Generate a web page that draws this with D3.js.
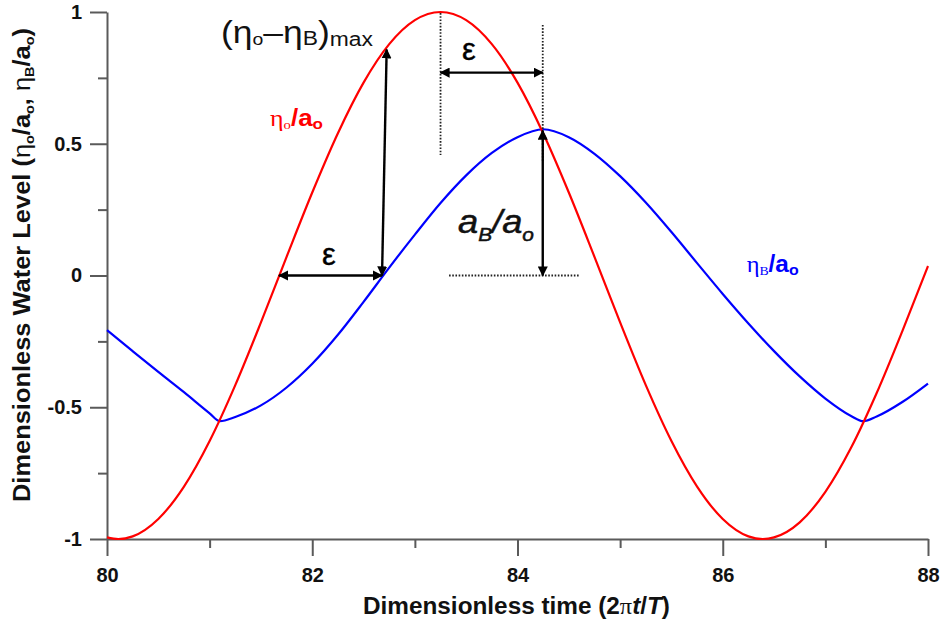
<!DOCTYPE html>
<html><head><meta charset="utf-8">
<script src="https://cdn.jsdelivr.net/npm/d3@7"></script>
<style>
html,body{margin:0;padding:0;background:#fff;}
svg{display:block;}
text{font-family:Arial,"Liberation Sans",sans-serif;}
</style></head>
<body>
<svg id="chart" width="946" height="625"></svg>
<script>
// ---- data ----
const oceanT = [80.00,80.11,80.25,80.50,80.75,81.00,81.25,81.50,81.75,82.00,82.25,82.50,82.75,83.00,83.25,83.50,83.75,84.00,84.25,84.50,84.75,85.00,85.25,85.50,85.75,86.00,86.25,86.39,86.50,86.75,87.00,87.25,87.50,87.75,88.00];
const oceanLevel = [-0.994,-1.000,-0.990,-0.924,-0.801,-0.628,-0.416,-0.178,0.071,0.315,0.540,0.732,0.878,0.969,1.000,0.969,0.878,0.732,0.540,0.315,0.071,-0.178,-0.416,-0.628,-0.801,-0.924,-0.990,-1.000,-0.994,-0.937,-0.821,-0.654,-0.446,-0.211,0.036];
const basinT = [80.00,80.25,80.50,80.75,81.00,81.10,81.25,81.50,81.75,82.00,82.25,82.50,82.75,83.00,83.25,83.50,83.75,84.00,84.25,84.50,84.75,85.00,85.25,85.50,85.75,86.00,86.25,86.50,86.75,87.00,87.25,87.37,87.50,87.75,88.00];
const basinLevel = [-0.207,-0.287,-0.366,-0.443,-0.523,-0.553,-0.537,-0.493,-0.425,-0.335,-0.225,-0.100,0.030,0.155,0.275,0.380,0.465,0.525,0.555,0.525,0.462,0.377,0.277,0.165,0.047,-0.070,-0.182,-0.287,-0.383,-0.467,-0.533,-0.553,-0.535,-0.480,-0.410];
const xMajorTicks = [80,82,84,86,88];
const xMinorTicks = [81,83,85,87];
const yMajorTicks = [-1,-0.5,0,0.5,1];
const yMinorTicks = [-0.75,-0.25,0.25,0.75];
const yTickLabels = ["-1","-0.5","0","0.5","1"];

// ---- scales ----
const svg = d3.select("#chart");
const x = d3.scaleLinear().domain([80,88]).range([107,928]);
const y = d3.scaleLinear().domain([-1,1]).range([539,12]);
const axisColor = "#5a5a5a";

// ---- axes ----
function styleAxis(g){
  g.select(".domain").attr("stroke",axisColor).attr("stroke-width",2);
  g.selectAll(".tick line").attr("stroke",axisColor).attr("stroke-width",2);
  g.selectAll(".tick text").attr("fill","#111").attr("font-weight","bold").attr("font-size",20)
   .attr("font-family","Arial, 'Liberation Sans', sans-serif");
}
const gxMinor = svg.append("g").attr("transform",`translate(0,${y(-1)})`)
  .call(d3.axisBottom(x).tickValues(xMinorTicks).tickSize(9).tickFormat(""));
gxMinor.select(".domain").remove();
gxMinor.selectAll(".tick line").attr("stroke",axisColor).attr("stroke-width",2);
const gx = svg.append("g").attr("transform",`translate(0,${y(-1)})`)
  .call(d3.axisBottom(x).tickValues(xMajorTicks).tickSize(17).tickSizeOuter(0).tickPadding(12).tickFormat(d3.format("d")));
styleAxis(gx);

const gyMinor = svg.append("g").attr("transform",`translate(${x(80)},0)`)
  .call(d3.axisLeft(y).tickValues(yMinorTicks).tickSize(9).tickFormat(""));
gyMinor.select(".domain").remove();
gyMinor.selectAll(".tick line").attr("stroke",axisColor).attr("stroke-width",2);
const gy = svg.append("g").attr("transform",`translate(${x(80)},0)`)
  .call(d3.axisLeft(y).tickValues(yMajorTicks).tickSize(17).tickSizeOuter(0).tickPadding(8)
    .tickFormat((d,i)=>yTickLabels[i]));
styleAxis(gy);

// ---- lines ----
const line = d3.line().x(d=>x(d[0])).y(d=>y(d[1])).curve(d3.curveMonotoneX);
svg.append("path").datum(basinT.map((t,i)=>[t,basinLevel[i]]))
  .attr("d",line).attr("fill","none").attr("stroke","#0000ff").attr("stroke-width",2.2);
svg.append("path").datum(oceanT.map((t,i)=>[t,oceanLevel[i]]))
  .attr("d",line).attr("fill","none").attr("stroke","#ff0000").attr("stroke-width",2.2);

// ---- annotations ----
const defs = svg.append("defs");
defs.append("marker").attr("id","ah").attr("viewBox","0 0 10 10").attr("refX",9).attr("refY",5)
  .attr("markerWidth",4.2).attr("markerHeight",4.2).attr("markerUnits","strokeWidth").attr("orient","auto-start-reverse")
  .append("path").attr("d","M0,0 L10,5 L0,10 Z").attr("fill","#000");

function arrow(x1,y1,x2,y2){
  svg.append("line").attr("x1",x(x1)).attr("y1",y(y1)).attr("x2",x(x2)).attr("y2",y(y2))
    .attr("stroke","#000").attr("stroke-width",2.4)
    .attr("marker-start","url(#ah)").attr("marker-end","url(#ah)");
}
function dotted(x1,y1,x2,y2){
  svg.append("line").attr("x1",x(x1)).attr("y1",y(y1)).attr("x2",x(x2)).attr("y2",y(y2))
    .attr("stroke","#222").attr("stroke-width",1.8).attr("stroke-dasharray","1.6,1.6");
}
const tPeak = 83.25, tCross = 84.246, basinPeak = 0.555;
dotted(tPeak,0.996,tPeak,0.457);
dotted(tCross,0.951,tCross,0.43);
dotted(83.333,0,84.6,0);
arrow(81.675,0,82.68,0);
arrow(82.68,0,82.725,0.858);
arrow(tPeak,0.77,tCross,0.77);
arrow(tCross,basinPeak-0.005,tCross,0.0);

// epsilon labels
const serif = "'Liberation Serif','DejaVu Serif',serif";
svg.append("text").attr("x",x(82.163)).attr("y",y(0.04)).attr("text-anchor","middle")
  .attr("font-family",serif).attr("font-size",31).attr("stroke","#000").attr("stroke-width",0.4).text("ε");
svg.append("text").attr("x",x(83.527)).attr("y",y(0.818)).attr("text-anchor","middle")
  .attr("font-family",serif).attr("font-size",31).attr("stroke","#000").attr("stroke-width",0.4).text("ε");

// (ηo−ηB)max
const tMax = svg.append("text").attr("x",x(81.11)).attr("y",y(0.882))
  .attr("font-family",serif).attr("font-size",31).attr("fill","#111")
  .attr("textLength",152).attr("lengthAdjust","spacingAndGlyphs");
tMax.append("tspan").text("(η");
tMax.append("tspan").attr("font-size",17).attr("dy",2).text("o");
tMax.append("tspan").attr("dy",-2).text("–η");
tMax.append("tspan").attr("font-size",20).attr("dy",2).text("B");
tMax.append("tspan").attr("dy",-2).text(")");
tMax.append("tspan").attr("font-family","Arial,'Liberation Sans',sans-serif").attr("font-size",20).attr("dy",3).text("max");

// aB/ao
const tA = svg.append("text").attr("x",x(83.42)).attr("y",y(0.161))
  .attr("font-family","'Liberation Sans',Arial,sans-serif").attr("font-style","italic").attr("font-size",33).attr("fill","#111")
  .attr("stroke","#111").attr("stroke-width",0.5)
  .attr("textLength",76).attr("lengthAdjust","spacingAndGlyphs");
tA.append("tspan").text("a");
tA.append("tspan").attr("font-size",19).attr("dy",8).text("B");
tA.append("tspan").attr("dy",-8).text("/a");
tA.append("tspan").attr("font-size",19).attr("dy",8).text("o");

// series labels
function seriesLabel(tx,ty,color,sub,len){
  const t = svg.append("text").attr("x",x(tx)).attr("y",y(ty)).attr("fill",color).attr("font-size",23)
    .attr("textLength",len).attr("lengthAdjust","spacingAndGlyphs");
  t.append("tspan").attr("font-family",serif).text("η");
  t.append("tspan").attr("font-family",serif).attr("font-size",13).attr("dy",3).text(sub);
  t.append("tspan").attr("font-weight","bold").attr("dy",-3).text("/a");
  t.append("tspan").attr("font-weight","bold").attr("font-size",15).attr("dy",3).text("o");
}
seriesLabel(81.588,0.567,"#ff0000","o",53);
seriesLabel(86.233,0.012,"#0000ff","B",52);

// axis titles
const xt = svg.append("text").attr("x",363).attr("y",614).attr("font-weight","bold").attr("font-size",23).attr("fill","#111")
  .attr("textLength",307).attr("lengthAdjust","spacingAndGlyphs");
xt.append("tspan").text("Dimensionless time (2");
xt.append("tspan").attr("font-family",serif).attr("font-weight","normal").text("π");
xt.append("tspan").attr("font-style","italic").text("t");
xt.append("tspan").text("/");
xt.append("tspan").attr("font-style","italic").text("T");
xt.append("tspan").text(")");

const yt = svg.append("text").attr("transform","translate(30,502) rotate(-90)")
  .attr("font-weight","bold").attr("font-size",23).attr("fill","#111")
  .attr("textLength",474).attr("lengthAdjust","spacingAndGlyphs");
yt.append("tspan").text("Dimensionless Water Level (");
yt.append("tspan").attr("font-weight","normal").text("η");
yt.append("tspan").attr("font-size",13).attr("dy",4).text("o");
yt.append("tspan").attr("dy",-4).text("/a");
yt.append("tspan").attr("font-size",13).attr("dy",4).text("o");
yt.append("tspan").attr("dy",-4).text(", ");
yt.append("tspan").attr("font-weight","normal").text("η");
yt.append("tspan").attr("font-size",13).attr("dy",4).text("B");
yt.append("tspan").attr("dy",-4).text("/a");
yt.append("tspan").attr("font-size",13).attr("dy",4).text("o");
yt.append("tspan").attr("dy",-4).text(")");
</script>
</body></html>
